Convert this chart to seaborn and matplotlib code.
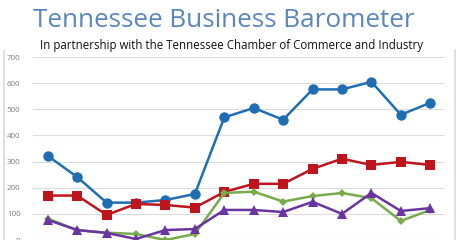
import matplotlib
matplotlib.use("Agg")
import matplotlib.pyplot as plt
import seaborn as sns
import pandas as pd
from matplotlib.lines import Line2D

periods = list(range(14))
series_a = [322, 241, 143, 143, 153, 176, 469, 505, 460, 576, 576, 605, 479, 525]
series_b = [170, 170, 96, 138, 134, 124, 184, 215, 215, 272, 311, 287, 299, 287]
series_c = [82, 38, 28, 23, 0, 23, 180, 185, 147, 168, 180, 160, 73, 115]
series_d = [77, 38, 27, 4, 38, 42, 115, 115, 107, 146, 100, 180, 111, 122]
y_ticks = [0, 100, 200, 300, 400, 500, 600, 700]

title = "Tennessee Business Barometer"
subtitle = "In partnership with the Tennessee Chamber of Commerce and Industry"

sns.set_style("white")
plt.rcParams['font.family'] = ['Open Sans', 'DejaVu Sans']

fig = plt.figure(figsize=(4.6, 2.4), dpi=100)
fig.patch.set_facecolor("white")
ax = fig.add_axes([33/460, 1 - 255.7/240, 412/460, (255.7 - 57)/240])

styles = [
    (series_a, "#1f6db3", "o", 7.5),
    (series_b, "#c0141c", "s", 6.5),
    (series_c, "#78ab4c", "D", 4.5),
    (series_d, "#6a35a0", "^", 7),
]
for vals, col, mk, ms in styles:
    df = pd.DataFrame({"period": periods, "value": vals})
    sns.lineplot(data=df, x="period", y="value", ax=ax, color=col, marker=mk,
                 markersize=ms, linewidth=1.8, markeredgewidth=0, clip_on=True)

ax.set_xlim(-0.5, 13.5)
ax.set_ylim(-60, 700)
ax.set_yticks(y_ticks)
ax.set_yticklabels([str(t) for t in y_ticks])
ax.set_xticks([])
ax.set_xlabel("")
ax.set_ylabel("")
ax.yaxis.grid(True, color="#dcdcdc", linewidth=0.8)
ax.set_axisbelow(True)
for s in ax.spines.values():
    s.set_visible(False)
ax.tick_params(axis="y", length=0, labelsize=5.8, labelcolor="#7f7f7f", pad=9)

fig.text(224/460, 1 - 27/240, title, ha="center", va="baseline",
         fontsize=18.8, color="#5a86bf")
fig.text(232/460, 1 - 49.5/240, subtitle, ha="center", va="baseline",
         fontsize=8.3, color="#111111")

fig.add_artist(Line2D([4/460, 4/460], [0, 1 - 50/240], color="#d9d9d9", linewidth=1.2))
fig.add_artist(Line2D([455/460, 455/460], [0, 1 - 50/240], color="#d9d9d9", linewidth=1.2))

fig.savefig("out.png", dpi=100)
